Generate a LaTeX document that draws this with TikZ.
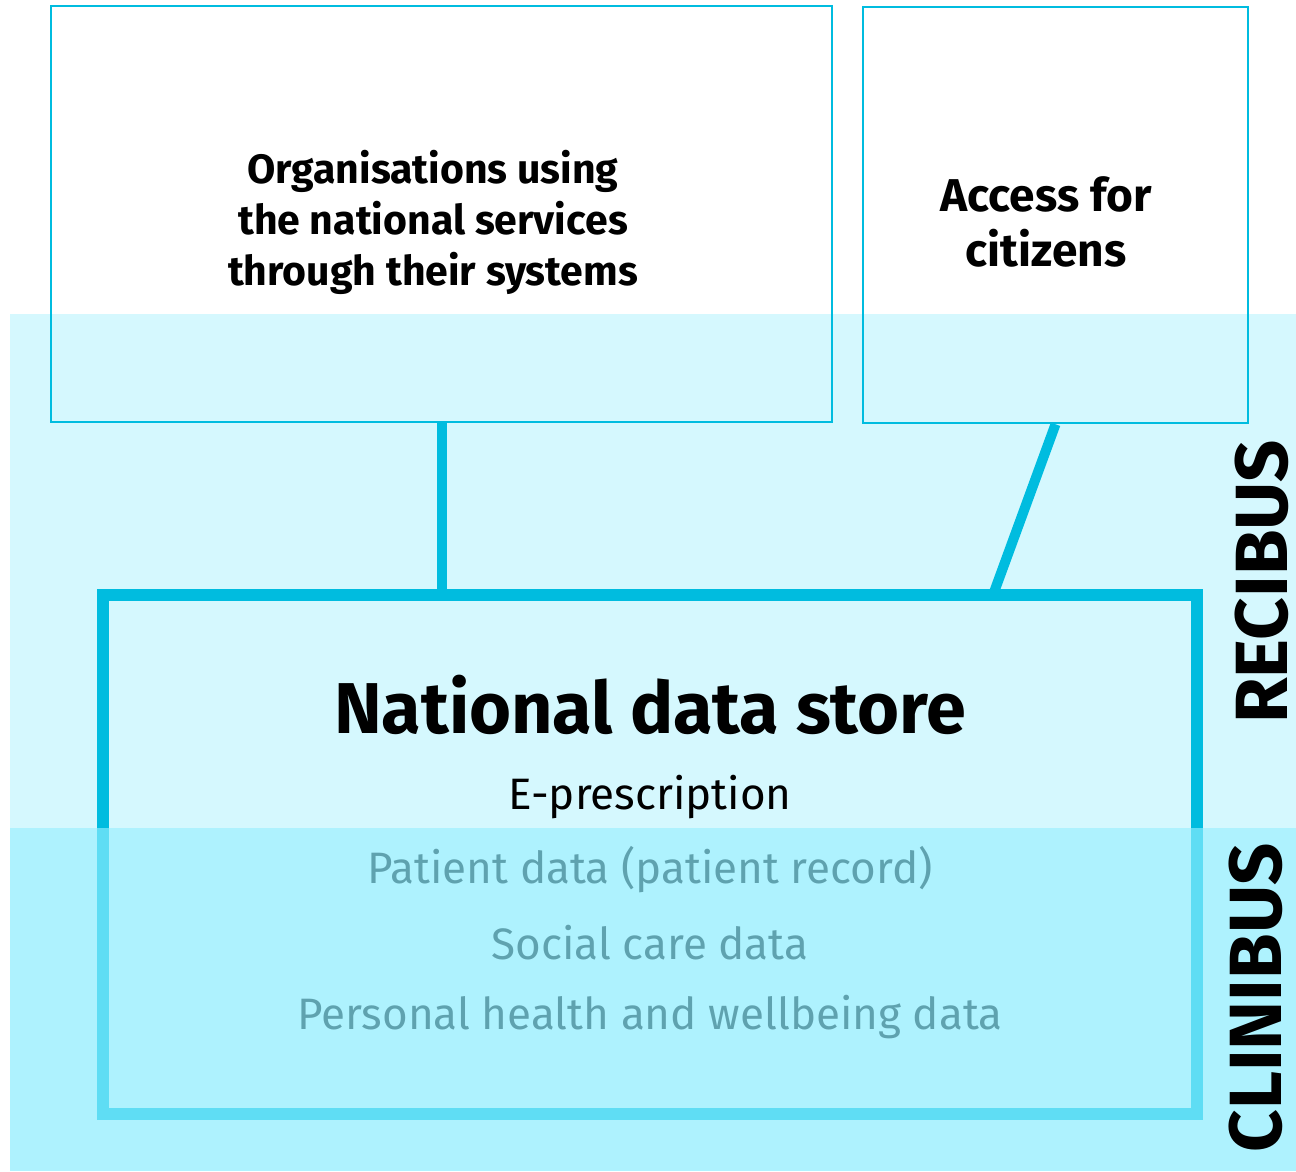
\documentclass[tikz,border=0pt]{standalone}
\usepackage{fontspec}
\setmainfont{Fira Sans}
\definecolor{cyanline}{HTML}{00BCDF}
\definecolor{bandup}{HTML}{D5F8FE}
\definecolor{banddown}{RGB}{138,236,254}
\tikzset{
  topbox/.style={draw=cyanline, line width=2.5pt, inner sep=0pt},
  boxtext/.style={align=center, inner sep=0pt},
  conn/.style={draw=cyanline, line width=10pt},
  datatext/.style={font=\fontsize{44}{52}\selectfont, inner sep=0pt},
  bustext/.style={font=\bfseries\fontsize{74}{80}\selectfont, rotate=90, inner sep=0pt}
}
\begin{document}
\begin{tikzpicture}[x=1pt,y=-1pt]
\useasboundingbox (0,0) rectangle (1296,1171);
% upper band
\fill[bandup] (10,314) rectangle (1296,828);
% top boxes
\node[topbox, minimum width=781pt, minimum height=416pt] (org) at (441.5,214) {};
\node[topbox, minimum width=385pt, minimum height=416pt] (cit) at (1055.5,215) {};
\node[boxtext, font=\bfseries\fontsize{41}{51}\selectfont] (orgtext) at (433,222) {Organisations using\\the national services\\through their systems};
\node[boxtext, font=\bfseries\fontsize{46}{55}\selectfont] (cittext) at (1046,222) {Access for\\citizens};
% main box
\node[draw=cyanline, line width=12pt, minimum width=1094pt, minimum height=519pt, inner sep=0pt] (store) at (650,854.5) {};
\coordinate (d) at (993,595);
\draw[conn] (org.south) -- (org.south |- store.north);
\draw[conn] (cit.south) -- (d);
% texts
\node[font=\bfseries\fontsize{72}{80}\selectfont, inner sep=0pt] (title) at (650,705) {National data store};
\node[datatext] (ep) at (650,797) {E-prescription};
\node[datatext] (pd) at (650,870) {Patient data (patient record)};
\node[datatext] (sc) at (650,943) {Social care data};
\node[datatext] (ph) at (650,1017) {Personal health and wellbeing data};
% lower band overlay
\fill[banddown, fill opacity=0.69] (10,828) rectangle (1296,1171);
% bus labels
\node[bustext] (recibus) at (1262,582) {RECIBUS};
\node[bustext] (clinibus) at (1256,998) {CLINIBUS};
\end{tikzpicture}
\end{document}
